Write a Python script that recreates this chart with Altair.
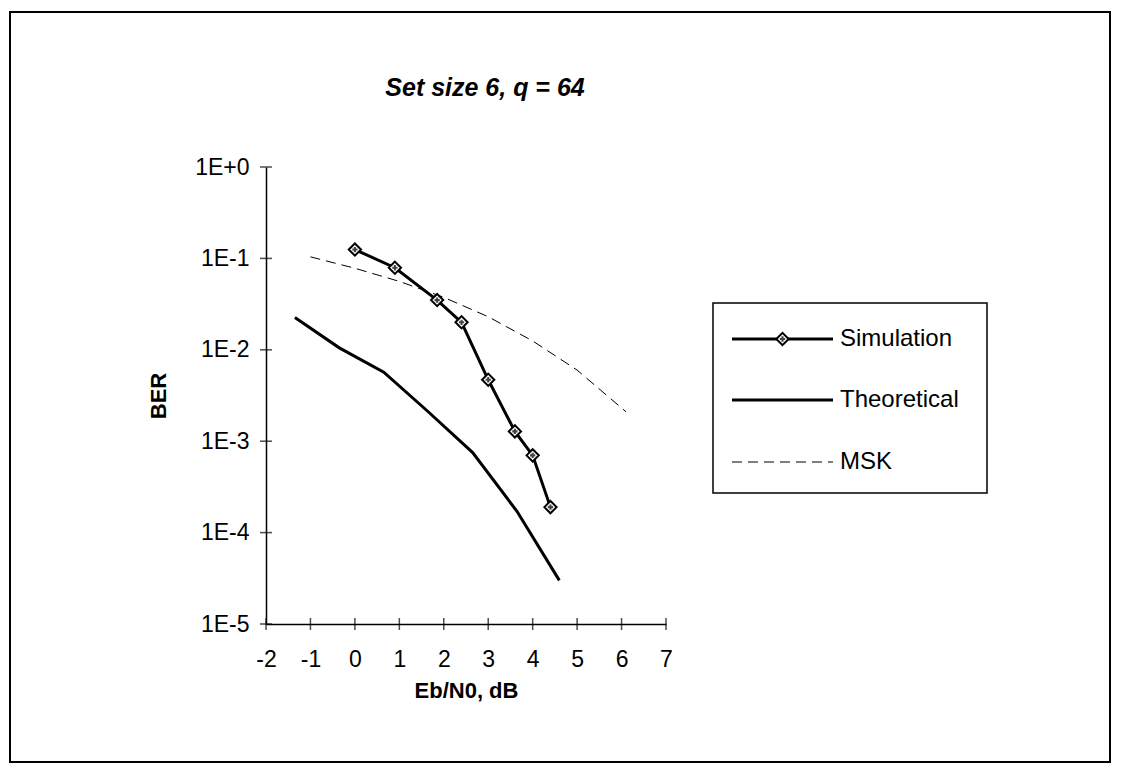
import altair as alt
import pandas as pd

# ---- data ----
title_text = "Set size 6, q = 64"
x_title = "Eb/N0, dB"
y_title = "BER"
series_names = ["Simulation", "Theoretical", "MSK"]

sim_x = [0.0, 0.9, 1.85, 2.4, 3.0, 3.6, 4.0, 4.4]
sim_y = [0.125, 0.079, 0.035, 0.020, 0.0047, 0.00128, 0.00070, 0.00019]

theo_x = [-1.35, -0.35, 0.65, 1.65, 2.65, 3.65, 4.6]
theo_y = [0.0225, 0.0105, 0.0057, 0.0021, 0.00075, 0.00017, 0.00003]

msk_x = [-1.0, 0.0, 1.0, 2.0, 3.0, 4.0, 5.0, 6.1]
msk_y = [0.104, 0.078, 0.056, 0.0375, 0.023, 0.0125, 0.006, 0.0021]

x_ticks = [-2, -1, 0, 1, 2, 3, 4, 5, 6, 7]
y_ticks = [1, 0.1, 0.01, 0.001, 0.0001, 0.00001]

# ---- tables ----
sim = pd.DataFrame({"x": sim_x, "y": sim_y})
theo = pd.DataFrame({"x": theo_x, "y": theo_y})
msk = pd.DataFrame({"x": msk_x, "y": msk_y})
xt = pd.DataFrame({"x": x_ticks})
yt = pd.DataFrame({"y": y_ticks})
one = pd.DataFrame({"k": [0]})

W, H = 400, 457
FONT = "Liberation Sans"

x_scale = alt.Scale(domain=[-2, 7], nice=False, zero=False)
y_scale = alt.Scale(type="log", domain=[1e-5, 1], nice=False)

X = alt.X("x:Q", scale=x_scale, axis=alt.Axis(
    values=x_ticks, ticks=False, grid=False, domainColor="black", domainWidth=1.5,
    labelFont=FONT, labelFontSize=23, labelColor="black", labelPadding=24,
    labelFlush=False, labelExpr="'' + datum.value",
    title=x_title, titleFont=FONT, titleFontSize=22,
    titleFontWeight="bold", titleColor="black", titleX=W / 2, titleY=66,
    titleBaseline="middle"))
Y = alt.Y("y:Q", scale=y_scale, axis=alt.Axis(
    values=y_ticks, ticks=False, grid=False, domainColor="black", domainWidth=1.5,
    labelFont=FONT, labelFontSize=23, labelColor="black", labelPadding=17,
    labelFlush=False,
    labelExpr="'1E' + (round(log(datum.value)/LN10) >= 0 ? '+' : '') + round(log(datum.value)/LN10)",
    title=y_title, titleFont=FONT, titleFontSize=22, titleFontWeight="bold",
    titleColor="black", titleX=-108, titleY=H / 2, titleAngle=-90,
    titleAlign="center", titleBaseline="middle"))

frame = alt.Chart(one).mark_rect(fillOpacity=0, stroke="black", strokeWidth=2).encode(
    x=alt.value(-256), x2=alt.value(844), y=alt.value(-155), y2=alt.value(595))

title = alt.Chart(one).mark_text(
    text=title_text, font=FONT, fontSize=25, fontWeight="bold", fontStyle="italic",
    color="black", align="center", baseline="middle").encode(
    x=alt.value(219), y=alt.value(-79))

ytick_marks = alt.Chart(yt).mark_tick(orient="horizontal", size=12, thickness=1.5,
                                      color="black").encode(y=Y, x=alt.value(0))
xtick_marks = alt.Chart(xt).mark_tick(orient="vertical", size=12, thickness=1.5,
                                      color="black").encode(x=X, y=alt.value(H))

theo_line = alt.Chart(theo).mark_line(color="black", strokeWidth=3).encode(x=X, y=Y)
msk_line = alt.Chart(msk).mark_line(color="black", strokeWidth=1, strokeDash=[10, 6]).encode(x=X, y=Y)
sim_line = alt.Chart(sim).mark_line(color="black", strokeWidth=3).encode(x=X, y=Y)
sim_pts = alt.Chart(sim).mark_point(shape="diamond", size=150, filled=True, fill="white",
                                    stroke="black", strokeWidth=2, opacity=1).encode(x=X, y=Y)
sim_inner = alt.Chart(sim).mark_point(shape="cross", size=28, filled=True, fill="#444",
                                      strokeWidth=0, opacity=1).encode(x=X, y=Y)

# ---- legend (drawn by hand) ----
LX0, LX1, LY0, LY1 = 447, 721, 136, 326
ly = [172, 233, 295]
lx_line0, lx_line1, lx_text = 466, 567, 574
legend_parts = [
    alt.Chart(one).mark_rect(fillOpacity=0, stroke="black", strokeWidth=1.5).encode(
        x=alt.value(LX0), x2=alt.value(LX1), y=alt.value(LY0), y2=alt.value(LY1)),
    alt.Chart(one).mark_rule(color="black", strokeWidth=3).encode(
        x=alt.value(lx_line0), x2=alt.value(lx_line1), y=alt.value(ly[0])),
    alt.Chart(one).mark_point(shape="diamond", size=150, filled=True, fill="white",
                              stroke="black", strokeWidth=2, opacity=1).encode(
        x=alt.value((lx_line0 + lx_line1) / 2), y=alt.value(ly[0])),
    alt.Chart(one).mark_point(shape="cross", size=28, filled=True, fill="#444",
                              strokeWidth=0, opacity=1).encode(
        x=alt.value((lx_line0 + lx_line1) / 2), y=alt.value(ly[0])),
    alt.Chart(one).mark_rule(color="black", strokeWidth=3).encode(
        x=alt.value(lx_line0), x2=alt.value(lx_line1), y=alt.value(ly[1])),
    alt.Chart(one).mark_rule(color="black", strokeWidth=1, strokeDash=[10, 6]).encode(
        x=alt.value(lx_line0), x2=alt.value(lx_line1), y=alt.value(ly[2])),
]
for name, yy in zip(series_names, ly):
    legend_parts.append(alt.Chart(one).mark_text(
        text=name, font=FONT, fontSize=24, color="black", align="left",
        baseline="middle").encode(x=alt.value(lx_text), y=alt.value(yy)))

chart = alt.layer(
    frame, title, theo_line, msk_line, sim_line, sim_pts, sim_inner,
    ytick_marks, xtick_marks, *legend_parts
).properties(
    width=W, height=H,
    autosize=alt.AutoSizeParams(type="none"),
    padding={"left": 258, "top": 159, "right": 446, "bottom": 140},
    background="white",
).configure_view(stroke="transparent")

chart.save("out.html", embed_options={"renderer": "svg", "actions": False})
